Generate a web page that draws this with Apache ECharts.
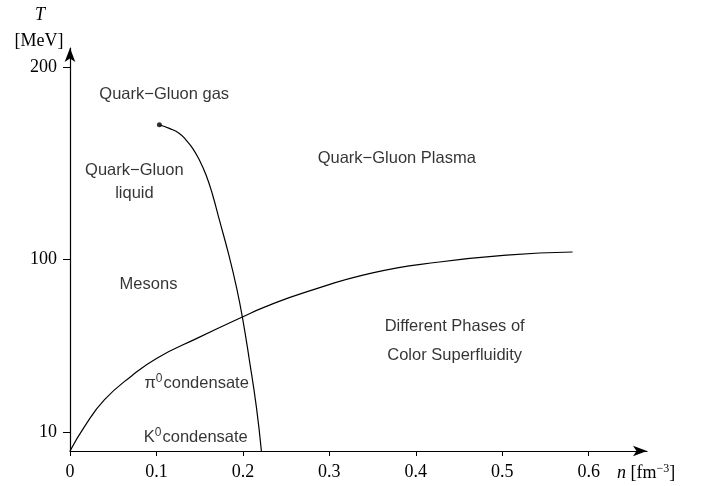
<!DOCTYPE html>
<html>
<head>
<meta charset="utf-8">
<script src="https://cdn.jsdelivr.net/npm/echarts@6/dist/echarts.min.js"></script>
<style>html,body{margin:0;padding:0;background:#fff}#c{width:701px;height:486px}</style>
</head>
<body>
<div id="c"></div>
<script>
// x ticks (density n, fm^-3) and y ticks (temperature T, MeV)
const nTicks = [0, 0.1, 0.2, 0.3, 0.4, 0.5, 0.6];
const tTicks = [10, 100, 200];

// Curve A: starts at critical point, falls steeply to T=0
const curveA_n = [0.1034, 0.1149, 0.1265, 0.1343, 0.1419, 0.1497, 0.1574, 0.1650, 0.1728, 0.1844, 0.1925, 0.1994, 0.2075, 0.2156, 0.2214];
const curveA_T = [170.0, 168.1, 165.5, 162.0, 157.7, 151.6, 143.8, 133.4, 120.4, 101.0, 85.5, 69.8, 47.4, 23.0, 0];

// Curve B: rising from origin and levelling off
const curveB_n = [0, 0.0166, 0.0397, 0.0709, 0.101, 0.1474, 0.1994, 0.225, 0.2735, 0.35, 0.4274, 0.505, 0.5814];
const curveB_T = [0, 12.6, 26.6, 39.0, 48.5, 58.8, 69.8, 75.0, 82.9, 92.8, 98.5, 102.1, 103.7];

// Region labels (text and their position in data units)
const regionText = [
  'Quark\u2212Gluon gas',
  'Quark\u2212Gluon\nliquid',
  'Quark\u2212Gluon Plasma',
  'Mesons',
  'Different Phases of\nColor Superfluidity',
  '{t|\u03c0}{s|0}{t|condensate}',
  '{t|K}{s|0}{t|condensate}'
];
const regionN = [0.109, 0.0745, 0.378, 0.0908, 0.445, 0.1465, 0.1455];
const regionT = [186, 140, 152.5, 87, 57.2, 35, 6.9];
const regionLineHeight = [23, 23, 23, 23, 29, 23, 23];

const chart = echarts.init(document.getElementById('c'), null, {renderer: 'canvas'});

const zip = (a, b) => a.map((v, i) => [v, b[i]]);
const sans = 'Liberation Sans, Arial, Helvetica, sans-serif';
const serif = 'Liberation Serif, Times New Roman, serif';

chart.setOption({
  animation: false,
  backgroundColor: '#fff',
  grid: {left: 70, right: 54, top: 48, bottom: 35, containLabel: false},
  xAxis: {
    type: 'value', min: 0, max: 0.6675,
    splitLine: {show: false},
    axisLine: {show: true, onZero: false, symbol: ['none', 'arrow'], symbolSize: [8, 14],
      lineStyle: {color: '#000', width: 1.2}},
    axisTick: {show: true, length: 5, customValues: nTicks, lineStyle: {color: '#000', width: 1}},
    axisLabel: {show: true, customValues: nTicks, margin: 12, color: '#000', fontFamily: serif, fontSize: 18,
      formatter: v => String(v)}
  },
  yAxis: {
    type: 'value', min: 0, max: 210,
    splitLine: {show: false},
    axisLine: {show: true, onZero: false, symbol: ['none', 'arrow'], symbolSize: [8, 14],
      lineStyle: {color: '#000', width: 1.2}},
    axisTick: {show: true, length: 7, customValues: tTicks, lineStyle: {color: '#000', width: 1}},
    axisLabel: {show: true, customValues: tTicks, margin: 13, color: '#000', fontFamily: serif, fontSize: 18}
  },
  graphic: [
    {type: 'text', x: 40, y: 15, style: {text: 'T', font: 'italic 18px ' + serif, fill: '#000', align: 'center', verticalAlign: 'middle'}},
    {type: 'text', x: 39, y: 41, style: {text: '[MeV]', font: '18px ' + serif, fill: '#000', align: 'center', verticalAlign: 'middle'}},
    {type: 'text', x: 617, y: 473, style: {
      text: '{i|n} [fm{s|\u22123}]', fill: '#000', verticalAlign: 'middle', align: 'left',
      font: '18px ' + serif,
      rich: {
        i: {fontFamily: serif, fontStyle: 'italic', fontSize: 18, fill: '#000'},
        s: {fontFamily: serif, fontSize: 12, fill: '#000', verticalAlign: 'top', padding: [0, 0, 8, 0]}
      }
    }}
  ],
  series: [
    {
      type: 'line', data: zip(curveA_n, curveA_T), smooth: 0.5, symbol: 'none',
      lineStyle: {color: '#000', width: 1.2}, z: 3
    },
    {
      type: 'line', data: zip(curveB_n, curveB_T), smooth: 0.5, symbol: 'none',
      lineStyle: {color: '#000', width: 1.2}, z: 3
    },
    {
      type: 'scatter', data: [[curveA_n[0], curveA_T[0]]], symbol: 'circle', symbolSize: 5,
      itemStyle: {color: '#000'}, z: 4
    },
    {
      type: 'scatter', symbol: 'circle', symbolSize: 1, itemStyle: {color: 'rgba(0,0,0,0)'}, z: 5, silent: true,
      data: regionText.map((t, i) => ({
        value: [regionN[i], regionT[i]],
        label: {formatter: t, lineHeight: regionLineHeight[i]}
      })),
      label: {
        show: true, position: 'inside', color: '#000', fontFamily: sans, fontSize: 16.5,
        align: 'center', verticalAlign: 'middle',
        rich: {
          t: {fontFamily: sans, fontSize: 16.5, color: '#000'},
          s: {fontFamily: sans, fontSize: 12, color: '#000', verticalAlign: 'top', padding: [0, 1, 8, 0]}
        }
      }
    }
  ]
});
</script>
</body>
</html>
